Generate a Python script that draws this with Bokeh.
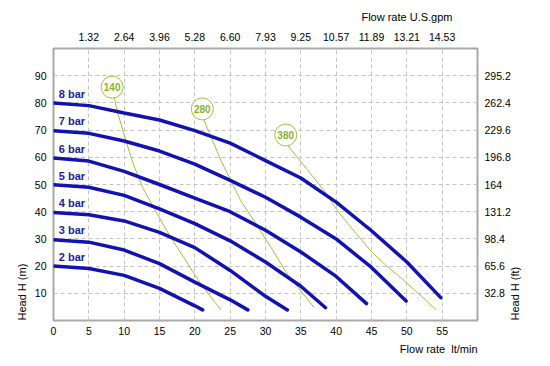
import math
from bokeh.plotting import figure
from bokeh.models import LinearAxis, FixedTicker, Title
from bokeh.core.properties import value
from bokeh.embed import file_html
from bokeh.resources import INLINE

# ---------------- data ----------------
# pump curves: flow rate (lt/min) vs head (m) at supply air pressures
bar_names = ["2 bar", "3 bar", "4 bar", "5 bar", "6 bar", "7 bar", "8 bar"]
flow_2bar = [0, 5, 10, 15, 20, 21.1]
head_2bar = [20.0, 19.1, 16.6, 11.8, 5.4, 3.9]
flow_3bar = [0, 5, 10, 15, 20, 25, 27.5]
head_3bar = [29.7, 28.8, 25.9, 20.9, 14.1, 7.6, 3.9]
flow_4bar = [0, 5, 10, 15, 20, 25, 30, 33.1]
head_4bar = [39.7, 38.9, 36.6, 32.4, 26.8, 18.4, 8.9, 3.9]
flow_5bar = [0, 5, 10, 15, 20, 25, 30, 35, 38.5]
head_5bar = [49.9, 49.0, 46.0, 41.0, 35.6, 29.3, 21.5, 12.6, 4.7]
flow_6bar = [0, 5, 10, 15, 20, 25, 30, 35, 40, 44.3]
head_6bar = [59.7, 58.6, 54.8, 50.0, 45.0, 40.0, 33.2, 25.2, 16.2, 6.2]
flow_7bar = [0, 5, 10, 15, 20, 25, 30, 35, 40, 45, 49.9]
head_7bar = [69.8, 68.8, 66.0, 62.3, 57.5, 51.5, 45.3, 38.0, 30.0, 19.5, 7.2]
flow_8bar = [0, 5, 10, 15, 20, 25, 30, 35, 40, 45, 50, 54.8]
head_8bar = [80.0, 79.0, 76.3, 73.7, 69.8, 65.2, 58.8, 52.4, 43.5, 33.0, 21.5, 8.4]

# air consumption lines (first point = label bubble)
air_names = ["140", "280", "380"]
flow_140 = [8.3, 9.0, 10.2, 11.3, 12.7, 14.5, 16.6, 18.6, 21.0, 23.7]
head_140 = [85.8, 77.0, 66.5, 57.5, 48.5, 40.0, 30.5, 22.5, 12.8, 3.9]
flow_280 = [21.06, 21.3, 23.7, 25.1, 26.5, 28.4, 30.8, 33.1, 36.9]
head_280 = [77.8, 73.6, 58.8, 51.4, 44.0, 36.6, 26.8, 17.0, 4.7]
flow_380 = [32.86, 33.3, 35.8, 38.3, 40.2, 42.5, 44.9, 47.0, 49.2, 54.1]
head_380 = [68.2, 63.9, 55.8, 47.7, 40.3, 33.0, 25.6, 20.4, 15.6, 4.1]

# axis ticks
x_ticks = [0, 5, 10, 15, 20, 25, 30, 35, 40, 45, 50, 55]
gpm_ticks = [5, 10, 15, 20, 25, 30, 35, 40, 45, 50, 55]
gpm_labels = ["1.32", "2.64", "3.96", "5.28", "6.60", "7.93", "9.25", "10.57", "11.89", "13.21", "14.53"]
y_ticks = [10, 20, 30, 40, 50, 60, 70, 80, 90]
ft_labels = ["32.8", "65.6", "98.4", "131.2", "164", "196.8", "229.6", "262.4", "295.2"]

# ---------------- style ----------------
FONT = "Liberation Sans"
BLUE = "#1212b2"
LBLUE = "#1c1ca0"
GREEN = "#9fc23e"
GREEN_T = "#8bb22c"
GRID = "#c4c4c4"
FRAME = "#a8a8a8"

p = figure(frame_width=424, frame_height=272,
           min_border_left=53, min_border_right=65,
           min_border_top=48, min_border_bottom=38,
           x_range=(0, 60), y_range=(0, 100),
           output_backend="svg", toolbar_location=None,
           background_fill_color="white", border_fill_color="white")

p.outline_line_color = FRAME
p.outline_line_width = 2

p.xgrid.ticker = FixedTicker(ticks=gpm_ticks)
p.ygrid.ticker = FixedTicker(ticks=y_ticks)
for g in (p.xgrid[0], p.ygrid[0]):
    g.grid_line_color = GRID
    g.grid_line_dash = "4 3"
    g.grid_line_width = 1


def style_axis(ax, standoff):
    ax.axis_line_color = None
    ax.major_tick_line_color = None
    ax.minor_tick_line_color = None
    ax.major_tick_out = 0
    ax.minor_tick_out = 0
    ax.major_tick_in = 0
    ax.minor_tick_in = 0
    ax.major_label_standoff = standoff
    ax.major_label_text_font = FONT
    ax.major_label_text_font_size = "10.5px"
    ax.major_label_text_color = "#000000"


xa = p.xaxis[0]
xa.ticker = FixedTicker(ticks=x_ticks)
style_axis(xa, 6)
ya = p.yaxis[0]
ya.ticker = FixedTicker(ticks=y_ticks)
style_axis(ya, 7)

top = LinearAxis(ticker=FixedTicker(ticks=gpm_ticks),
                 major_label_overrides={t: l for t, l in zip(gpm_ticks, gpm_labels)})
style_axis(top, 8)
p.add_layout(top, "above")

right = LinearAxis(ticker=FixedTicker(ticks=y_ticks),
                   major_label_overrides={t: l for t, l in zip(y_ticks, ft_labels)})
style_axis(right, 7)
right.axis_label = "Head H (ft)"
right.axis_label_text_font = FONT
right.axis_label_text_font_size = "11px"
right.axis_label_text_font_style = "normal"
right.axis_label_text_color = "#000000"
right.axis_label_standoff = 1
right.axis_label_orientation = math.pi / 2
right.axis_label_align = "start"
p.add_layout(right, "right")

# axis titles as side-panel titles
def side_title(text, where, align, offset=0, standoff=6):
    t = Title(text=text, align=align, offset=offset, text_font=FONT,
              text_font_size="11px", text_font_style="normal",
              text_color="#000000", standoff=standoff)
    p.add_layout(t, where)

side_title("Flow rate U.S.gpm", "above", "right", 25, 13)
side_title("Flow rate\u00a0\u00a0lt/min", "below", "right", 0, 6)
side_title("Head H (m)", "left", "left", 0, 8)

# air consumption lines
air = [(flow_140, head_140), (flow_280, head_280), (flow_380, head_380)]
for fx, hy in air:
    p.line(fx, hy, line_color=GREEN, line_width=1)

# pump curves
curves = [(flow_2bar, head_2bar), (flow_3bar, head_3bar), (flow_4bar, head_4bar),
          (flow_5bar, head_5bar), (flow_6bar, head_6bar), (flow_7bar, head_7bar),
          (flow_8bar, head_8bar)]
for (fx, hy), name in zip(curves, bar_names):
    p.line(fx, hy, line_color=BLUE, line_width=3.5, line_cap="round")
    p.text(x=[0.75], y=[hy[0] + 3.4], text=[name], text_color=LBLUE,
           text_font=value(FONT), text_font_size="11px", text_font_style="bold",
           text_align="left", text_baseline="middle")

# bubbles
bx = [a[0][0] for a in air]
by = [a[1][0] for a in air]
p.scatter(bx, by, marker="circle", size=22, fill_color="white",
          line_color=GREEN, line_width=1)
p.text(x=bx, y=by, text=air_names, text_color=GREEN_T, text_font=value(FONT),
       text_font_size="10px", text_font_style="bold",
       text_align="center", text_baseline="middle")

open("out.html", "w").write(file_html(p, INLINE))
